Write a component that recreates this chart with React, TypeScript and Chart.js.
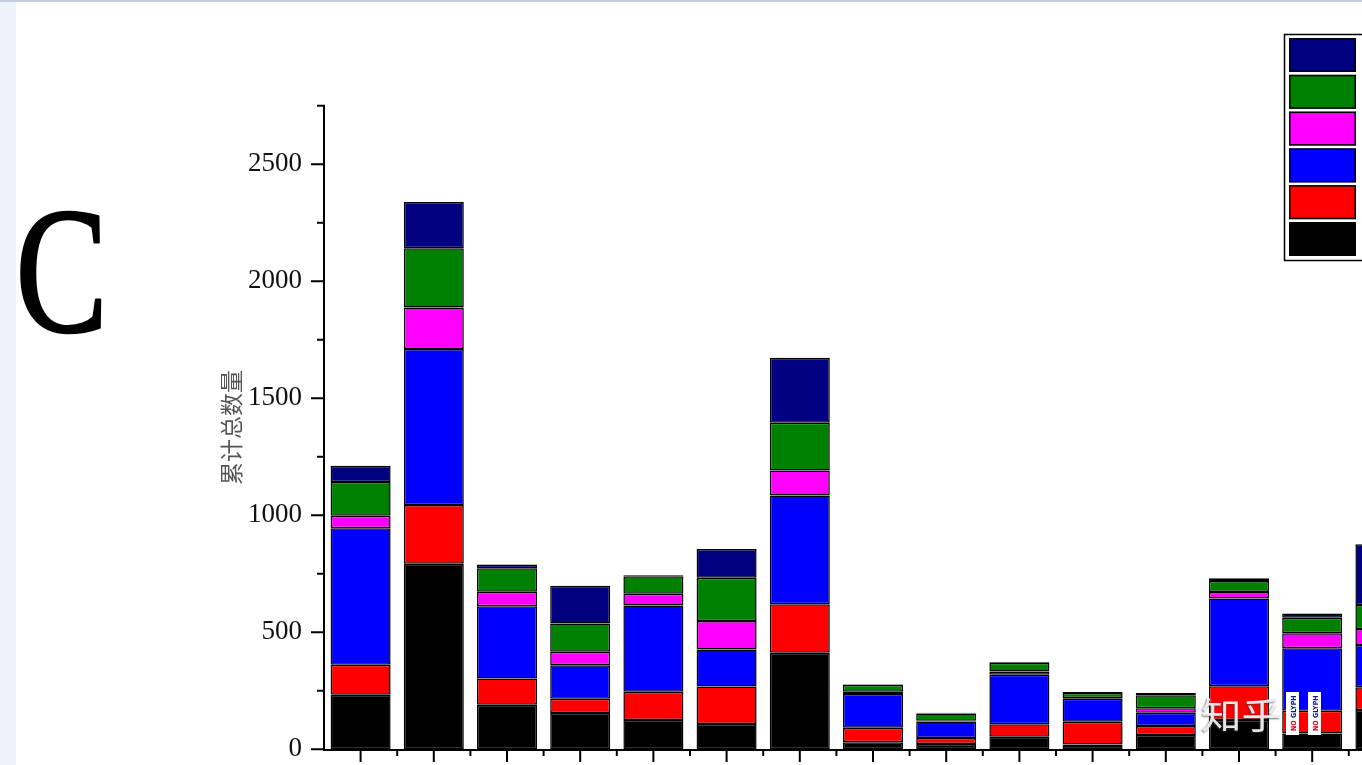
import React, { useEffect, useRef } from 'react';
import { Chart, registerables } from 'chart.js';

Chart.register(...registerables);

// ---------- data ----------
const CATEGORIES = ['1', '2', '3', '4', '5', '6', '7', '8', '9', '10', '11', '12', '13', '14', '15'];
const SERIES_NAMES = ['类别1', '类别2', '类别3', '类别4', '类别5', '类别6'];
const SERIES_COLORS = ['#000000', '#ff0000', '#0000ff', '#ff00ff', '#008000', '#000080'];

const S_BLACK = [233, 793, 190, 155, 125, 108, 413, 30, 23, 54, 21, 61, 125, 68, 168];
const S_RED = [128, 251, 113, 61, 121, 160, 207, 62, 25, 53, 97, 39, 144, 97, 97];
const S_BLUE = [584, 667, 308, 143, 368, 159, 465, 144, 71, 212, 98, 56, 375, 267, 181];
const S_MAGENTA = [53, 177, 62, 58, 51, 121, 106, 10, 3, 14, 3, 19, 28, 64, 68];
const S_GREEN = [144, 253, 101, 121, 75, 185, 205, 30, 31, 37, 22, 56, 47, 66, 103];
const S_NAVY = [70, 198, 16, 161, 4, 123, 277, 2, 3, 3, 4, 10, 12, 18, 259];

const Y_TICKS = [0, 500, 1000, 1500, 2000, 2500];
const Y_MINOR = [250, 750, 1250, 1750, 2250, 2750];
const Y_MAX = 2750;
const Y_TITLE = '累计总数量';
const PANEL_LETTER = 'C';
const WATERMARK = '知乎';

const SERIES = [S_BLACK, S_RED, S_BLUE, S_MAGENTA, S_GREEN, S_NAVY];

function fitText(ctx: CanvasRenderingContext2D, text: string, font: string, x0: number, y0: number, x1: number, y1: number) {
  ctx.font = font;
  const m = ctx.measureText(text);
  const w = m.actualBoundingBoxLeft + m.actualBoundingBoxRight;
  const h = m.actualBoundingBoxAscent + m.actualBoundingBoxDescent;
  const sx = (x1 - x0) / w;
  const sy = (y1 - y0) / h;
  ctx.translate(x0 + m.actualBoundingBoxLeft * sx, y0 + m.actualBoundingBoxAscent * sy);
  ctx.scale(sx, sy);
  ctx.textAlign = 'left';
  ctx.textBaseline = 'alphabetic';
}

const decorPlugin = {
  id: 'decor',
  afterDatasetsDraw(chart: any) {
    const { ctx, chartArea: ca } = chart;
    const x = chart.scales.x;
    const y = chart.scales.y;
    ctx.save();
    ctx.strokeStyle = '#000';
    ctx.lineWidth = 2;
    const y0 = y.getPixelForValue(0);
    const axisY = Math.round(y0) + 1;
    ctx.beginPath();
    ctx.moveTo(ca.left, y.getPixelForValue(Y_MAX) - 1);
    ctx.lineTo(ca.left, axisY + 1);
    ctx.moveTo(ca.left - 1, axisY);
    ctx.lineTo(chart.width, axisY);
    Y_TICKS.forEach((v) => {
      const p = y.getPixelForValue(v);
      ctx.moveTo(ca.left, p);
      ctx.lineTo(ca.left - 13, p);
    });
    Y_MINOR.forEach((v) => {
      const p = y.getPixelForValue(v);
      ctx.moveTo(ca.left, p);
      ctx.lineTo(ca.left - 7, p);
    });
    const n = CATEGORIES.length;
    for (let i = 0; i < n; i++) {
      const c = x.getPixelForValue(i);
      ctx.moveTo(c, axisY);
      ctx.lineTo(c, axisY + 12);
    }
    const step = n > 1 ? x.getPixelForValue(1) - x.getPixelForValue(0) : ca.width;
    for (let i = 1; i <= n; i++) {
      const b = x.getPixelForValue(0) - step / 2 + i * step;
      ctx.moveTo(b, axisY);
      ctx.lineTo(b, axisY + 6);
    }
    ctx.stroke();
    ctx.restore();
  },
  afterDraw(chart: any) {
    const { ctx } = chart;
    // legend
    ctx.save();
    ctx.strokeStyle = '#000';
    ctx.lineWidth = 1.5;
    ctx.strokeRect(1284.5, 34.5, 220, 226);
    const ds = chart.data.datasets;
    for (let i = 0; i < ds.length; i++) {
      const d = ds[ds.length - 1 - i];
      const top = 38 + i * 36.8;
      ctx.fillStyle = d.backgroundColor;
      ctx.fillRect(1289, top, 67, 34);
      ctx.strokeStyle = '#000';
      ctx.lineWidth = 1.5;
      ctx.strokeRect(1289.75, top + 0.75, 65.5, 32.5);
      ctx.fillStyle = '#000';
      ctx.font = '22px "Noto Sans CJK SC"';
      ctx.textBaseline = 'middle';
      ctx.fillText(d.label, 1366, top + 17);
    }
    ctx.restore();

    // panel letter
    ctx.save();
    fitText(ctx, PANEL_LETTER, '180px "Liberation Serif"', 21, 211, 101, 333);
    ctx.fillStyle = '#000';
    ctx.strokeStyle = '#000';
    ctx.lineWidth = 2.5;
    ctx.lineJoin = 'round';
    ctx.fillText(PANEL_LETTER, 0, 0);
    ctx.strokeText(PANEL_LETTER, 0, 0);
    ctx.restore();

    // watermark
    ctx.save();
    fitText(ctx, WATERMARK, '40px "Noto Sans CJK SC"', 1202, 698, 1280, 733);
    ctx.shadowColor = 'rgba(60,60,60,0.75)';
    ctx.shadowBlur = 2;
    ctx.shadowOffsetX = -1;
    ctx.shadowOffsetY = 1;
    ctx.fillStyle = 'rgba(240,240,240,0.95)';
    ctx.fillText(WATERMARK, 0, 0);
    ctx.restore();

    // missing-glyph boxes
    [1286, 1308].forEach((bx) => {
      ctx.save();
      ctx.fillStyle = '#fff';
      ctx.fillRect(bx, 692, 13, 43);
      ctx.translate(bx + 10, 732);
      ctx.rotate(-Math.PI / 2);
      ctx.font = 'bold 7px "DejaVu Sans Condensed", "DejaVu Sans"';
      ctx.textBaseline = 'alphabetic';
      ctx.fillStyle = '#d00020';
      ctx.fillText('NO', 1, 0);
      ctx.fillStyle = '#102080';
      ctx.fillText('GLYPH', 14, 0);
      ctx.restore();
    });
  },
};

export default function App() {
  const ref = useRef<HTMLCanvasElement | null>(null);

  useEffect(() => {
    if (!ref.current) return;
    const chart = new Chart(ref.current, {
      type: 'bar',
      data: {
        labels: CATEGORIES,
        datasets: SERIES.map((s, i) => ({
          label: SERIES_NAMES[i],
          data: s,
          backgroundColor: SERIES_COLORS[i],
          borderColor: '#000',
          borderWidth: 1.5,
          borderSkipped: false,
          categoryPercentage: 1,
          barPercentage: 0.82,
        })),
      },
      options: {
        responsive: false,
        animation: false,
        devicePixelRatio: 1,
        layout: { padding: { left: 210, top: 105.8, right: 18, bottom: 50.7 } },
        plugins: { legend: { display: false }, tooltip: { enabled: false } },
        scales: {
          x: { type: 'category', stacked: true, display: false, offset: true },
          y: {
            type: 'linear',
            stacked: true,
            min: 0,
            max: Y_MAX,
            grid: { display: false, drawTicks: true, tickLength: 22 },
            border: { display: false },
            afterBuildTicks: (scale: any) => {
              scale.ticks = Y_TICKS.map((v) => ({ value: v }));
            },
            afterFit: (scale: any) => {
              scale.width = 114;
            },
            ticks: {
              padding: 0,
              color: '#111',
              font: { family: '"Liberation Serif"', size: 27, lineHeight: 1 },
              callback: (v: any) => String(v),
            },
            title: {
              display: true,
              text: Y_TITLE,
              color: '#555',
              font: { family: '"Noto Sans CJK SC"', size: 23, lineHeight: 1.2 },
              padding: { top: 7, bottom: 0 },
            },
          },
        },
      },
      plugins: [decorPlugin],
    });
    return () => chart.destroy();
  }, []);

  return (
    <div style={{ position: 'fixed', left: 0, top: 0, width: 1362, height: 765, overflow: 'hidden', background: '#eef2fa' }}>
      <div style={{ position: 'absolute', left: 0, top: 0, width: '100%', height: 2, background: '#c3cddd' }} />
      <div style={{ position: 'absolute', left: 16, top: 2, right: 0, bottom: 0, background: '#ffffff' }} />
      <div style={{ position: 'absolute', left: 0, top: 0, width: 1440, height: 800 }}>
        <canvas ref={ref} width={1440} height={800} style={{ display: 'block' }} />
      </div>
    </div>
  );
}
